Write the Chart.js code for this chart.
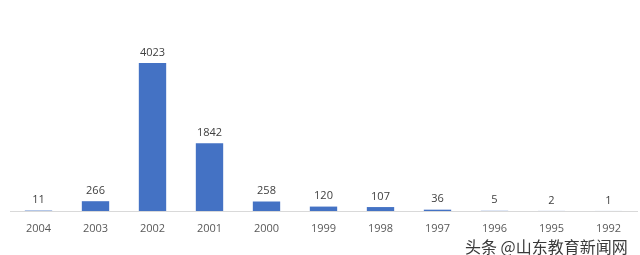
<!DOCTYPE html>
<html>
<head>
<meta charset="utf-8">
<script src="https://cdn.jsdelivr.net/npm/chart.js@4"></script>
<style>
  html, body { margin: 0; padding: 0; background: #fff; }
  #wrap { position: relative; width: 640px; height: 255px; }
  #mark {
    position: absolute; left: 465px; top: 234px;
    font-family: "Noto Sans CJK SC", sans-serif; font-size: 16px;
    color: #3a3a3a;
    text-shadow: 0 0 2px #fff, 0 0 2px #fff;
  }
</style>
</head>
<body>
<div id="wrap">
  <canvas id="chart" width="640" height="255"></canvas>
  <div id="mark">头条 @山东教育新闻网</div>
</div>
<script>
// Years and counts
const years = ['2004', '2003', '2002', '2001', '2000', '1999', '1998', '1997', '1996', '1995', '1992'];
const counts = [11, 266, 4023, 1842, 258, 120, 107, 36, 5, 2, 1];

// Draw the value above each bar
const valueLabels = {
    id: 'valueLabels',
    afterDatasetsDraw(chart) {
        const ctx = chart.ctx;
        const meta = chart.getDatasetMeta(0);
        ctx.save();
        ctx.font = '11px "Open Sans", sans-serif';
        ctx.fillStyle = '#404040';
        ctx.textAlign = 'center';
        ctx.textBaseline = 'bottom';
        meta.data.forEach((bar, i) => {
            ctx.fillText(String(counts[i]), bar.x, bar.y - 5);
        });
        ctx.restore();
    }
};

const ctx = document.getElementById('chart').getContext('2d');
new Chart(ctx, {
    type: 'bar',
    data: {
        labels: years,
        datasets: [{
            data: counts,
            backgroundColor: '#4472C4',
            categoryPercentage: 1,
            barPercentage: 0.48
        }]
    },
    options: {
        responsive: false,
        animation: false,
        layout: { padding: { left: 10, right: 3, top: 27, bottom: 0 } },
        plugins: {
            legend: { display: false },
            tooltip: { enabled: false }
        },
        scales: {
            x: {
                grid: { display: false },
                border: { color: '#d9d9d9', width: 1 },
                ticks: {
                    color: '#595959',
                    font: { family: '"Open Sans", sans-serif', size: 11 },
                    padding: 3,
                    maxRotation: 0,
                    autoSkip: false
                },
                afterFit(scale) { scale.height = 44; }
            },
            y: {
                display: false,
                min: 0,
                max: 5000
            }
        }
    },
    plugins: [valueLabels]
});
</script>
</body>
</html>
